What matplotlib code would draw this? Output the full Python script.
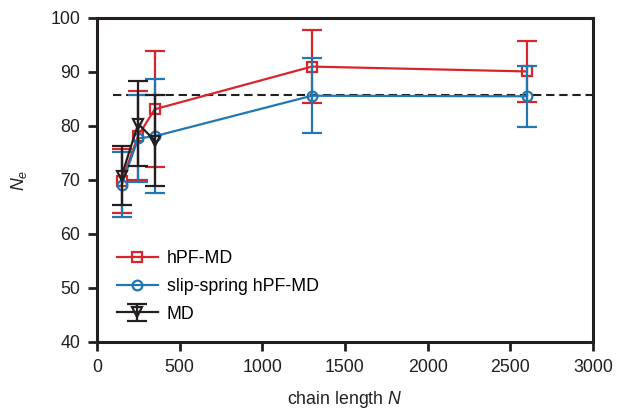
import matplotlib
matplotlib.use("Agg")
import matplotlib.pyplot as plt
from matplotlib.lines import Line2D

plt.rcParams['font.family'] = ['Liberation Sans', 'DejaVu Sans']
plt.rcParams['mathtext.fontset'] = 'custom'
plt.rcParams['mathtext.rm'] = 'Liberation Sans'
plt.rcParams['mathtext.it'] = 'Liberation Sans:italic'

# data
chain_N = [150, 250, 350, 1300, 2600]
hpf_ne = [69.8, 78.2, 83.1, 91.0, 90.1]
hpf_err = [6.0, 8.2, 10.7, 6.8, 5.6]
ss_ne = [69.1, 77.7, 78.1, 85.6, 85.5]
ss_err = [6.0, 8.1, 10.6, 6.9, 5.7]
md_N = [150, 250, 350]
md_ne = [70.8, 80.4, 77.3]
md_err = [5.4, 7.9, 8.4]
ne_plateau = 85.7
plateau_range = [100, 3000]

red = '#d7262b'
blue = '#1f77b4'
black = '#231f20'
fs = 12.8

fig = plt.figure(figsize=(6.17, 4.09), dpi=100)
ax = fig.add_axes([0.157, 0.164, 0.804, 0.792])

ax.plot(plateau_range, [ne_plateau, ne_plateau], ls=(0, (4, 2.3)), color=black, lw=1.5, zorder=1)

ax.errorbar(chain_N, hpf_ne, yerr=hpf_err, color=red, lw=1.6, marker='s', ms=7,
            mfc='none', mew=1.6, capsize=7, capthick=1.6, zorder=2)
ax.errorbar(chain_N, ss_ne, yerr=ss_err, color=blue, lw=1.6, marker='o', ms=7,
            mfc='none', mew=1.6, capsize=7, capthick=1.6, zorder=3)
md = ax.errorbar(md_N, md_ne, yerr=md_err, color=black, lw=1.6, marker='v', ms=7,
                 mfc='none', mew=1.6, capsize=7, capthick=1.6, zorder=4)

h1 = Line2D([], [], color=red, lw=1.6, marker='s', ms=7, mfc='none', mew=1.6)
h2 = Line2D([], [], color=blue, lw=1.6, marker='o', ms=7, mfc='none', mew=1.6)
ax.legend([h1, h2, md], ['hPF-MD', 'slip-spring hPF-MD', 'MD'], loc='lower left',
          bbox_to_anchor=(0.008, 0.01), frameon=False, fontsize=fs,
          handlelength=2.3, handletextpad=0.5, labelspacing=0.6)

ax.set_xlim(0, 3000)
ax.set_ylim(40, 100)
ax.set_xticks([0, 500, 1000, 1500, 2000, 2500, 3000])
ax.set_yticks([40, 50, 60, 70, 80, 90, 100])
ax.tick_params(direction='out', length=6.5, width=2.0, labelsize=fs, colors=black)
ax.tick_params(axis='x', pad=6)
ax.tick_params(axis='y', pad=5.5)
for s in ax.spines.values():
    s.set_linewidth(2.2)
    s.set_color(black)
ax.set_xlabel('chain length $N$', fontsize=fs, color=black, labelpad=9.5)
ax.set_ylabel('$N_e$', fontsize=fs, color=black, labelpad=15)

fig.savefig('out.png', dpi=100)
